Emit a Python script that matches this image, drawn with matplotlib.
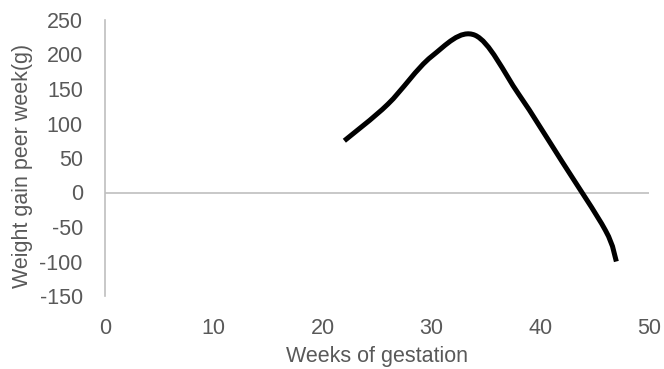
import matplotlib
matplotlib.use("Agg")
import matplotlib.pyplot as plt
from matplotlib.path import Path
from matplotlib.patches import PathPatch
import numpy as np

weeks = [22, 26, 30, 34, 38, 42, 46, 47]
gain = [75, 128, 197, 228, 143, 45, -55, -100]
x_ticks = [0, 10, 20, 30, 40, 50]
y_ticks = [-150, -100, -50, 0, 50, 100, 150, 200, 250]

plt.rcParams['font.family'] = ['Liberation Sans', 'DejaVu Sans']
plt.rcParams['axes.unicode_minus'] = False
fig = plt.figure(figsize=(6.64, 3.69), dpi=100)
ax = fig.add_axes([105/664, 1 - 296/369, (649-105)/664, (296-20)/369])
ax.set_xlim(0, 50)
ax.set_ylim(-150, 250)

# Excel-like smooth line: cubic Bezier through points
P = np.column_stack([weeks, gain]).astype(float)
n = len(P)
verts = [tuple(P[0])]
codes = [Path.MOVETO]
for i in range(n - 1):
    p0 = P[i - 1] if i > 0 else P[i]
    p1 = P[i]
    p2 = P[i + 1]
    p3 = P[i + 2] if i + 2 < n else P[i + 1]
    c1 = p1 + (p2 - p0) / 6.0
    c2 = p2 - (p3 - p1) / 6.0
    verts += [tuple(c1), tuple(c2), tuple(p2)]
    codes += [Path.CURVE4] * 3
patch = PathPatch(Path(verts, codes), facecolor='none', edgecolor='black',
                  lw=3.6, capstyle='butt', joinstyle='round')
ax.add_patch(patch)

for s in ['top', 'right', 'bottom']:
    ax.spines[s].set_visible(False)
ax.spines['left'].set_color('#bfbfbf')
ax.spines['left'].set_linewidth(1.2)
ax.axhline(0, color='#bfbfbf', lw=1.2, zorder=0)

ax.set_xticks(x_ticks)
ax.set_yticks(y_ticks)
ax.tick_params(length=0, labelsize=15.5, colors='#595959')
ax.tick_params(axis='y', pad=16)
ax.tick_params(axis='x', pad=16)
ax.set_xlabel('Weeks of gestation', fontsize=15.5, color='#595959')
ax.set_ylabel('Weight gain peer week(g)', fontsize=15.5, color='#595959')
ax.xaxis.set_label_coords(0.5, (296 - 346) / 276)
ax.yaxis.set_label_coords((33 - 105) / 544, (296 - 166) / 276)

fig.savefig('out.png', dpi=100)
